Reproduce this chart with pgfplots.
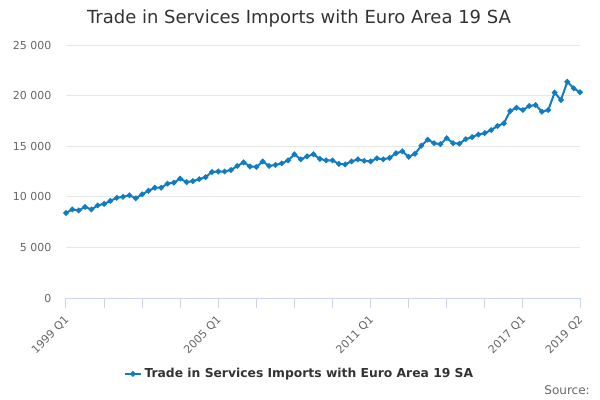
\documentclass[border=0pt]{standalone}
\usepackage{pgfplots}
\pgfplotsset{compat=1.18}
\usepackage{fontspec}
\setmainfont{DejaVu Sans}
\definecolor{lineblue}{RGB}{16,124,196}
\definecolor{axisblue}{RGB}{204,214,235}
\definecolor{gridgray}{RGB}{230,230,230}
\definecolor{labgray}{RGB}{102,102,102}
\definecolor{titlegray}{RGB}{51,51,51}
\begin{document}
\begin{tikzpicture}
\path[use as bounding box] (0pt,0pt) rectangle (450pt,-300pt);
\node[text=titlegray,font=\fontsize{13.5pt}{16pt}\selectfont] at (224.25pt,-14.25pt) {Trade in Services Imports with Euro Area 19 SA};
\node[text=labgray,font=\fontsize{9pt}{11pt}\selectfont,anchor=east,inner sep=0pt] at (442.5pt,-292.5pt) {Source:};
\begin{axis}[
  at={(49.5pt,-223.5pt)}, anchor=south west,
  scale only axis, width=385.5pt, height=189.75pt,
  xmin=0, xmax=81, ymin=0, ymax=25000,
  axis line style={draw=none},
  axis x line*=bottom, axis y line*=left,
  ytick={0,5000,10000,15000,20000,25000},
  ymajorgrids, grid style={gridgray, line width=0.75pt},
  major y tick style={draw=none},
  xtick={0,24,48,72,81},
  xticklabels={1999 Q1,2005 Q1,2011 Q1,2017 Q1,2019 Q2},
  minor xtick={6,12,18,30,36,42,54,60,66},
  x tick label style={rotate=45, anchor=north east, text=labgray, font=\fontsize{8.25pt}{10pt}\selectfont, yshift=1pt, xshift=-1.5pt},
  y tick label style={text=labgray, font=\fontsize{8.25pt}{10pt}\selectfont},
  /pgf/number format/assume math mode=true,
  /pgf/number format/1000 sep={\ },
  scaled y ticks=false,
  major x tick style={draw=axisblue, line width=0.75pt},
  minor x tick style={draw=axisblue, line width=0.75pt},
  tick align=outside, major tick length=7.5pt, minor tick length=7.5pt,
  clip=false,
  legend style={at={(0.455,-0.30)}, anchor=center, draw=none, fill=none,
    font=\fontsize{9.25pt}{12pt}\selectfont\bfseries, text=titlegray},
  legend image code/.code={
    \draw[#1] (0cm,0cm) -- (0.42cm,0cm);
    \draw[#1, mark repeat=1] plot coordinates {(0.21cm,0cm)};}
]
\draw[axisblue, line width=0.75pt] (axis cs:0,0) -- (axis cs:81,0);
\addplot[lineblue, line width=1.5pt, mark=*, mark size=1.25pt, mark options={solid,fill=lineblue,draw=lineblue}] coordinates {
(0,8400)(1,8750)(2,8650)(3,9000)
(4,8750)(5,9150)(6,9300)(7,9600)
(8,9900)(9,10000)(10,10150)(11,9850)
(12,10250)(13,10600)(14,10900)(15,10900)
(16,11300)(17,11400)(18,11800)(19,11450)
(20,11550)(21,11750)(22,11950)(23,12450)
(24,12500)(25,12500)(26,12650)(27,13050)
(28,13400)(29,13000)(30,12950)(31,13500)
(32,13050)(33,13150)(34,13300)(35,13600)
(36,14200)(37,13700)(38,14000)(39,14200)
(40,13750)(41,13600)(42,13600)(43,13250)
(44,13200)(45,13500)(46,13700)(47,13550)
(48,13500)(49,13800)(50,13700)(51,13850)
(52,14300)(53,14500)(54,13950)(55,14250)
(56,15050)(57,15650)(58,15300)(59,15200)
(60,15800)(61,15300)(62,15250)(63,15700)
(64,15900)(65,16150)(66,16300)(67,16600)
(68,17000)(69,17260)(70,18480)(71,18800)
(72,18580)(73,18970)(74,19070)(75,18410)
(76,18580)(77,20290)(78,19570)(79,21370)
(80,20720)(81,20330)
};
\addlegendentry{Trade in Services Imports with Euro Area 19 SA}
\end{axis}
\end{tikzpicture}
\end{document}
